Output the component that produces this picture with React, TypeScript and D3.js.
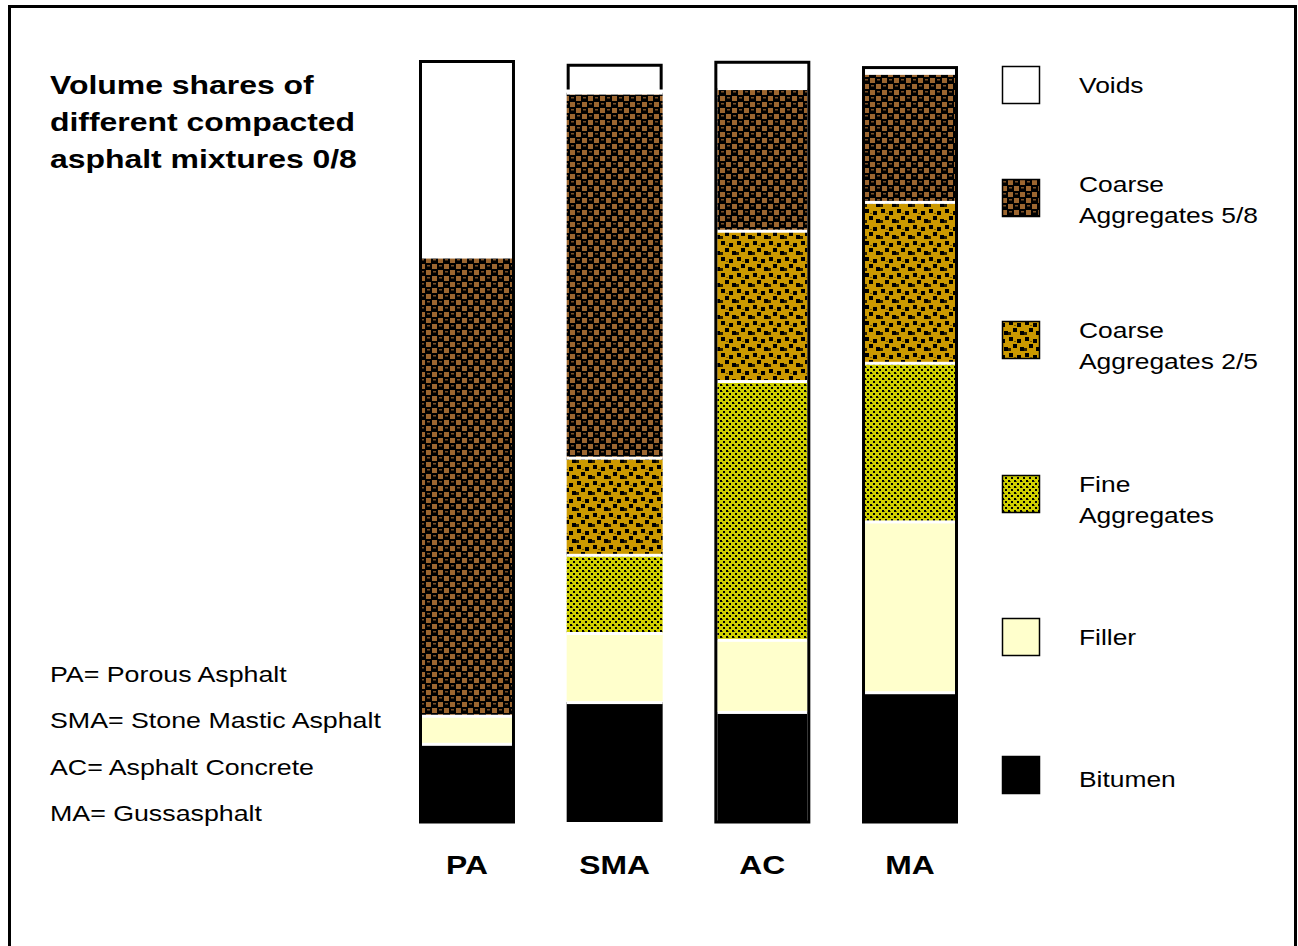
import * as d3 from "d3";

// mixtures (x categories)
const categories = ["PA", "SMA", "AC", "MA"];

// volume shares in % (bottom to top)
const bitumen = [10.3, 15.8, 14.5, 17.1];
const filler = [3.7, 9.1, 9.5, 22.5];
const fine = [0, 10.3, 34.1, 20.9];
const coarse25 = [0, 12.8, 19.8, 21.2];
const coarse58 = [60.5, 48.1, 18.8, 17.0];
const voids = [25.5, 3.8, 3.2, 0.5];

// which bars carry a full black frame (SMA only has the bracket around its voids)
const framed = [true, false, true, true];

const keys = ["bitumen", "filler", "fine", "coarse25", "coarse58", "voids"];
const legendOrder = ["voids", "coarse58", "coarse25", "fine", "filler", "bitumen"];
const legendLabels: Record<string, string[]> = {
  voids: ["Voids"],
  coarse58: ["Coarse", "Aggregates 5/8"],
  coarse25: ["Coarse", "Aggregates 2/5"],
  fine: ["Fine", "Aggregates"],
  filler: ["Filler"],
  bitumen: ["Bitumen"],
};
// legend layout: swatch tops and first label line baselines
const legendY = [66, 179, 321, 475, 618, 756];
const legendTextY = [93, 192, 338, 492, 645, 787];

const titleLines = ["Volume shares of", "different compacted", "asphalt mixtures 0/8"];
const notes = [
  "PA= Porous Asphalt",
  "SMA= Stone Mastic Asphalt",
  "AC= Asphalt Concrete",
  "MA= Gussasphalt",
];

const fills: Record<string, string> = {
  voids: "#ffffff",
  coarse58: "url(#pat-c58)",
  coarse25: "url(#pat-c25)",
  fine: "url(#pat-fine)",
  filler: "#ffffcc",
  bitumen: "#000000",
};

const FONT = "'Liberation Sans', Arial, Helvetica, sans-serif";
const SX = 1.2; // the slide is stretched sideways

export default function App() {
  const W = 1298;
  const H = 946;

  const rows = categories.map((c, i) => ({
    cat: c,
    bitumen: bitumen[i],
    filler: filler[i],
    fine: fine[i],
    coarse25: coarse25[i],
    coarse58: coarse58[i],
    voids: voids[i],
  }));
  const series = d3.stack<any>().keys(keys)(rows);
  const totals = rows.map((r) => d3.sum(keys, (k) => (r as any)[k]));

  const x = d3.scaleBand().domain(categories).range([419, 958]).paddingInner(0.35).paddingOuter(0);
  const y = d3.scaleLinear().domain([0, 100]).range([822, 63]);
  const bw = x.bandwidth();

  return (
    <svg
      width={W}
      height={H}
      style={{ position: "absolute", left: 0, top: 0, background: "#fff" }}
      fontFamily={FONT}
    >
      <defs>
        <pattern id="pat-c58" patternUnits="userSpaceOnUse" width="12" height="12">
          <rect width="12" height="12" fill="#000" />
          <rect x="0" y="0" width="5" height="5" fill="#9c6630" />
          <rect x="6" y="6" width="5" height="5" fill="#9c6630" />
          <rect x="7" y="1" width="3" height="1.5" fill="#7a5028" />
          <rect x="1" y="7" width="3" height="1.5" fill="#7a5028" />
        </pattern>
        <pattern id="pat-c25" patternUnits="userSpaceOnUse" width="16" height="16">
          <rect width="16" height="16" fill="#cc9900" />
          <rect x="1" y="1" width="4" height="4" fill="#000" />
          <rect x="9" y="3" width="4" height="4" fill="#000" />
          <rect x="5" y="8" width="4" height="4" fill="#000" />
          <rect x="12" y="11" width="4" height="4" fill="#000" />
          <rect x="0" y="12" width="3" height="3" fill="#2a1f00" />
          <rect x="6" y="5" width="2" height="1" fill="#7a5a00" />
        </pattern>
        <pattern id="pat-fine" patternUnits="userSpaceOnUse" width="6" height="6">
          <rect width="6" height="6" fill="#d0d000" />
          <rect x="0" y="0" width="2" height="2" fill="#000" />
          <rect x="3" y="3" width="2" height="2" fill="#000" />
          <rect x="2" y="1" width="1" height="1" fill="#666600" />
        </pattern>
      </defs>

      {/* outer frame */}
      <rect x={9.5} y={6.5} width={1286} height={980} fill="none" stroke="#000" strokeWidth={3} />

      {/* title */}
      {titleLines.map((t, i) => (
        <text
          key={t}
          transform={`translate(50,${94 + i * 37}) scale(${SX},1)`}
          fontSize={26.6}
          fontWeight="bold"
          fill="#000"
        >
          {t}
        </text>
      ))}

      {/* abbreviations */}
      {notes.map((t, i) => (
        <text key={t} transform={`translate(50,${682 + i * 46.3}) scale(${SX},1)`} fontSize={22.3} fill="#000">
          {t}
        </text>
      ))}

      {/* stacked bars */}
      {categories.map((c, i) => {
        const x0 = x(c) ?? 0;
        const inset = framed[i] ? 3 : 0;
        const topY = y(totals[i]);
        return (
          <g key={c}>
            {series.map((s) => {
              const d = s[i];
              const h = y(d[0]) - y(d[1]);
              if (h <= 0) return null;
              return (
                <rect
                  key={s.key}
                  x={x0 + inset}
                  y={y(d[1])}
                  width={bw - inset * 2}
                  height={h}
                  fill={fills[s.key]}
                />
              );
            })}
            {/* white separators between layers */}
            {series.map((s) => {
              const d = s[i];
              if (s.key === "voids" || y(d[0]) - y(d[1]) <= 0) return null;
              return (
                <rect
                  key={"sep-" + s.key}
                  x={x0 + inset}
                  y={y(d[1]) - 1}
                  width={bw - inset * 2}
                  height={3}
                  fill="#fff"
                />
              );
            })}
            {framed[i] ? (
              <rect
                x={x0 + 1.5}
                y={topY - 1.5}
                width={bw - 3}
                height={y(0) - topY + 1.5}
                fill="none"
                stroke="#000"
                strokeWidth={3}
              />
            ) : (
              <path
                d={`M${x0 + 1.5},${y(totals[i] - voids[i]) - 3} V${topY + 1.5} H${x0 + bw - 1.5} V${y(totals[i] - voids[i]) - 3}`}
                fill="none"
                stroke="#000"
                strokeWidth={3}
              />
            )}
            <text
              transform={`translate(${x0 + bw / 2},874) scale(${SX},1)`}
              textAnchor="middle"
              fontSize={26.5}
              fontWeight="bold"
              fill="#000"
            >
              {c}
            </text>
          </g>
        );
      })}

      {/* legend */}
      {legendOrder.map((k, i) => {
        const top = legendY[i];
        const lines = legendLabels[k];
        return (
          <g key={k}>
            <rect x={1002.5} y={top + 0.5} width={37} height={37} fill={fills[k]} stroke="#000" strokeWidth={1.5} />
            {lines.map((t, j) => (
              <text
                key={t}
                transform={`translate(1079,${legendTextY[i] + j * 31}) scale(${SX},1)`}
                fontSize={22}
                fill="#000"
              >
                {t}
              </text>
            ))}
          </g>
        );
      })}
    </svg>
  );
}
